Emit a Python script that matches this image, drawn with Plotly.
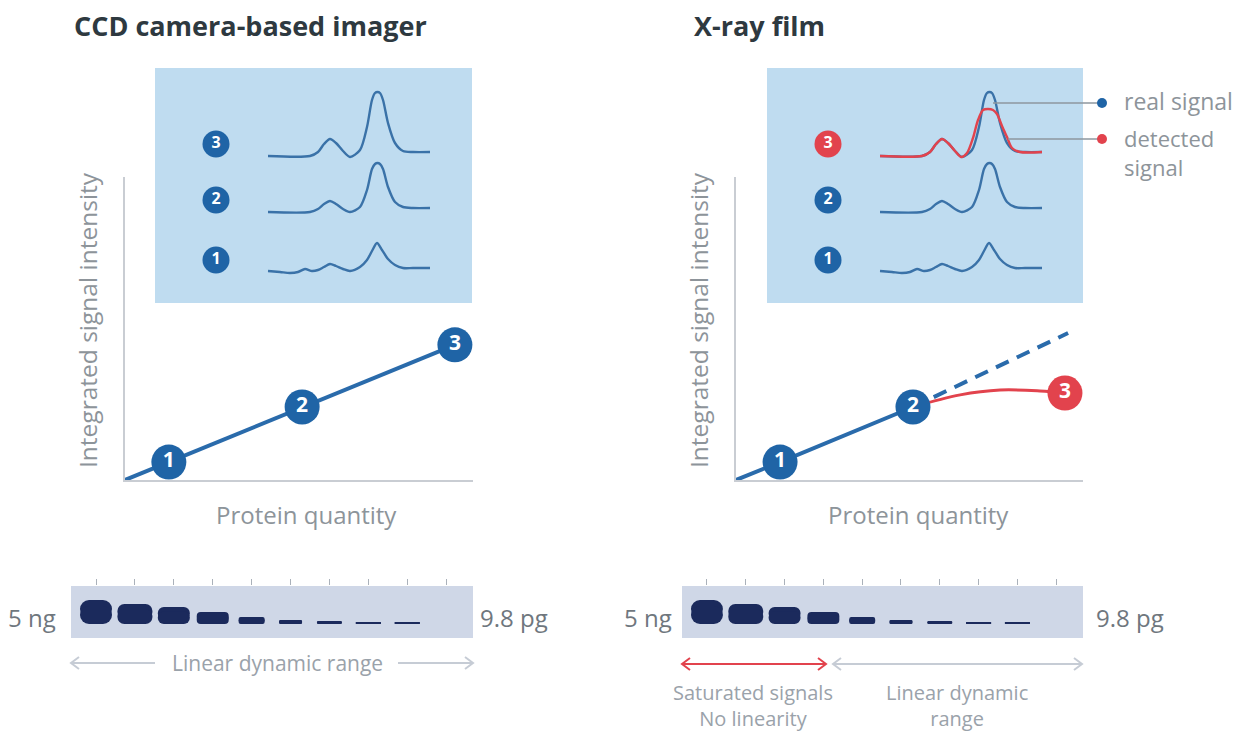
import plotly.graph_objects as go

W, H = 1248, 733
FONT = "Open Sans"
BLUE = "#1f64a6"
LINE_BLUE = "#2a6bab"
PROFILE_BLUE = "#3a72a8"
RED = "#e2434d"
NAVY = "#1b2a5c"
AXIS_GRAY = "#c9cdd3"
TEXT_GRAY = "#6f777e"
SOFT_GRAY = "#9aa2aa"
ARROW_GRAY = "#c6ccd5"
INSET_BG = "#bfdcf0"
STRIP_BG = "#cfd7e7"

# ---------------- data ----------------
sample_labels = ["1", "2", "3"]

# CCD imager: protein quantity vs integrated signal (origin + samples 1..3)
ccd_quantity = [0, 1.26, 5.09, 9.48]
ccd_signal = [0, 0.59, 2.41, 4.46]

# X-ray film
film_quantity = [0, 1.27, 5.10]
film_signal = [0, 0.59, 2.41]
film_expected_quantity = [5.10, 9.57]
film_expected_signal = [2.41, 4.85]
film_detected_quantity = [5.10, 6.46, 7.61, 8.76, 9.48]
film_detected_signal = [2.41, 2.81, 2.97, 2.94, 2.87]

# densitometry lane profiles (migration position, intensity above lane baseline)
profile_pos = [113, 155, 163, 169, 175, 181, 188, 195, 205, 212, 217, 220, 222.5, 225, 228, 233, 240, 248, 258, 275]
profile_3 = [0, 0, 4, 12, 17, 13, 5, -1, 6, 29, 56, 63, 64, 63, 56, 33, 13, 5, 4, 4]
profile_2 = [0, 0, 3, 8, 11, 8, 3, 0, 5, 22, 43, 48, 49, 48, 43, 25, 10, 5, 4, 4]
profile_1_pos = [113, 125, 135, 143, 150, 157, 163, 169, 175, 181, 188, 195, 205, 212, 217, 222, 227, 233, 240, 248, 258, 275]
profile_1 = [1, 0, -1, 0, 3, 1, 2, 5, 8, 6, 3, 1, 5, 12, 21, 29, 22, 13, 7, 4, 4, 4]
detected_3_pos = [113, 155, 163, 169, 175, 181, 188, 194, 200, 206, 211, 216, 221, 226, 230, 235, 240, 245, 253, 275]
detected_3 = [0, 0, 4, 12, 17, 13, 5, -1, 3, 18, 36, 46, 47, 46, 42, 30, 19, 8, 4, 4]

# blot: dilution series lanes
blot_lanes = [1, 2, 3, 4, 5, 6, 7, 8, 9]
band_intensity = [24, 20, 17, 12, 7, 4, 3, 2, 1.5]
band_spread = [32, 35, 32, 32, 26, 23, 25, 25, 25]
all_lanes = [1, 2, 3, 4, 5, 6, 7, 8, 9, 10]
sample_lane = [10, 6, 4]  # lanes of samples 1, 2, 3
blot_high = "5 ng"
blot_low = "9.8 pg"

# ---------------- layout helpers ----------------
def X(px):
    return px / W


def Y(py):
    return 1 - py / H


LANE_PX = 38.9
lane_offsets = [31, 91, 147]  # inset baselines of lanes 1..3
band_base = 14
badge_row = 62

fig = go.Figure()


def badges(xs, ys, labels, colors, size, fsize, xa, ya):
    fig.add_trace(go.Scatter(
        x=xs, y=ys, mode="markers+text", text=labels,
        textposition="middle center",
        textfont=dict(family=FONT, size=fsize, color="white", weight="bold"),
        marker=dict(size=size, color=colors, line=dict(width=0)),
        xaxis=xa, yaxis=ya, cliponaxis=False, showlegend=False, hoverinfo="skip"))


# ----- main left (CCD) -----
fig.add_trace(go.Scatter(x=ccd_quantity, y=ccd_signal, mode="lines",
                         line=dict(color=LINE_BLUE, width=4), xaxis="x", yaxis="y",
                         showlegend=False, cliponaxis=False))
badges(ccd_quantity[1:], ccd_signal[1:], sample_labels, [BLUE] * 3, 35, 21, "x", "y")

# ----- main right (film) -----
fig.add_trace(go.Scatter(x=film_expected_quantity, y=film_expected_signal, mode="lines",
                         line=dict(color=LINE_BLUE, width=4, dash="14px,9px"),
                         xaxis="x2", yaxis="y2", showlegend=False, cliponaxis=False))
fig.add_trace(go.Scatter(x=film_detected_quantity, y=film_detected_signal, mode="lines",
                         line=dict(color=RED, width=3, shape="spline"),
                         xaxis="x2", yaxis="y2", showlegend=False, cliponaxis=False))
fig.add_trace(go.Scatter(x=film_quantity, y=film_signal, mode="lines",
                         line=dict(color=LINE_BLUE, width=4), xaxis="x2", yaxis="y2",
                         showlegend=False, cliponaxis=False))
badges(film_quantity[1:] + [film_detected_quantity[-1]],
       film_signal[1:] + [film_detected_signal[-1]],
       sample_labels, [BLUE, BLUE, RED], 35, 21, "x2", "y2")

# ----- insets -----
for xa, ya, red3 in (("x3", "y3", False), ("x4", "y4", True)):
    lanes = [(profile_1_pos, profile_1), (profile_pos, profile_2), (profile_pos, profile_3)]
    for i, (pos, prof) in enumerate(lanes):
        fig.add_trace(go.Scatter(x=pos, y=[v + lane_offsets[i] for v in prof], mode="lines",
                                 line=dict(color=PROFILE_BLUE, width=2.4, shape="spline", smoothing=0.8),
                                 xaxis=xa, yaxis=ya, showlegend=False, hoverinfo="skip"))
    if red3:
        fig.add_trace(go.Scatter(x=detected_3_pos, y=[v + lane_offsets[2] for v in detected_3],
                                 mode="lines",
                                 line=dict(color=RED, width=2.4, shape="spline", smoothing=0.8),
                                 xaxis=xa, yaxis=ya, showlegend=False, hoverinfo="skip"))
    badges([61, 61, 61], [o + 12 for o in lane_offsets], sample_labels,
           [BLUE, BLUE, RED if red3 else BLUE], 27, 16, xa, ya)

# ----- blots (each band = two overlapping rounded halves) -----
for xa, ya, red3 in (("x5", "y5", False), ("x6", "y6", True)):
    for lane, h, w in zip(blot_lanes, band_intensity, band_spread):
        center = band_base + h / 2
        ov = h / 4
        part = h / 2 + ov
        r = max(min(0.45 * h, w / 2), 0.4)
        for sign in (1, -1):
            fig.add_trace(go.Bar(x=[lane], y=[sign * part], base=[center - sign * ov],
                                 width=[w / LANE_PX],
                                 marker=dict(color=NAVY, line=dict(width=0), cornerradius=r),
                                 xaxis=xa, yaxis=ya, showlegend=False, hoverinfo="skip"))
    badges(sample_lane, [badge_row] * 3, sample_labels,
           [BLUE, BLUE, RED if red3 else BLUE], 33, 20, xa, ya)

# ---------------- axes ----------------
main_axis = dict(showline=True, linecolor=AXIS_GRAY, linewidth=2, showgrid=False,
                 zeroline=False, showticklabels=False, ticks="", range=[0, 10], fixedrange=True)
hidden = dict(visible=False, fixedrange=True)
blot_x = dict(showline=False, showgrid=False, zeroline=False, showticklabels=False,
              ticks="outside", ticklen=6, tickwidth=1, tickcolor="#aab1ba", side="top",
              tickvals=all_lanes, range=[0.357, 10.69], fixedrange=True, layer="below traces")

fig.update_layout(
    width=W, height=H, autosize=False,
    margin=dict(l=0, r=0, t=0, b=0),
    paper_bgcolor="white", plot_bgcolor="rgba(0,0,0,0)",
    barmode="overlay", showlegend=False,
    font=dict(family=FONT),
    xaxis=dict(domain=[X(125), X(473)], anchor="y", **main_axis),
    yaxis=dict(domain=[Y(480), Y(177)], anchor="x", **main_axis),
    xaxis2=dict(domain=[X(736), X(1083)], anchor="y2", **main_axis),
    yaxis2=dict(domain=[Y(480), Y(177)], anchor="x2", **main_axis),
    xaxis3=dict(domain=[X(155), X(472)], anchor="y3", range=[0, 317], **hidden),
    yaxis3=dict(domain=[Y(303), Y(68)], anchor="x3", range=[0, 235], **hidden),
    xaxis4=dict(domain=[X(767), X(1083)], anchor="y4", range=[0, 316], **hidden),
    yaxis4=dict(domain=[Y(303), Y(68)], anchor="x4", range=[0, 235], **hidden),
    xaxis5=dict(domain=[X(71), X(473)], anchor="y5", **blot_x),
    yaxis5=dict(domain=[Y(638), Y(586)], anchor="x5", range=[0, 52], **hidden),
    xaxis6=dict(domain=[X(682), X(1083)], anchor="y6", **blot_x),
    yaxis6=dict(domain=[Y(638), Y(586)], anchor="x6", range=[0, 52], **hidden),
)

shapes = []
for n in ("3", "4"):
    shapes.append(dict(type="rect", xref=f"x{n} domain", yref=f"y{n} domain",
                       x0=0, x1=1, y0=0, y1=1, fillcolor=INSET_BG, line=dict(width=0), layer="below"))
for n in ("5", "6"):
    shapes.append(dict(type="rect", xref=f"x{n} domain", yref=f"y{n} domain",
                       x0=0, x1=1, y0=0, y1=1, fillcolor=STRIP_BG, line=dict(width=0), layer="below"))


def hline(x0, x1, y, color, width=2):
    shapes.append(dict(type="line", xref="paper", yref="paper", x0=X(x0), x1=X(x1),
                       y0=Y(y), y1=Y(y), line=dict(color=color, width=width)))


def head(tx, y, direction, color):
    d = 8 * direction
    path = f"M {X(tx - d)},{Y(y - 6)} L {X(tx)},{Y(y)} L {X(tx - d)},{Y(y + 6)}"
    shapes.append(dict(type="path", xref="paper", yref="paper", path=path,
                       line=dict(color=color, width=2)))


# arrows under blots
hline(71, 155, 663, ARROW_GRAY); head(71, 663, -1, ARROW_GRAY)
hline(398, 473, 663, ARROW_GRAY); head(473, 663, 1, ARROW_GRAY)
hline(682, 826, 664, RED); head(682, 664, -1, RED); head(826, 664, 1, RED)
hline(833, 1082, 664, ARROW_GRAY); head(833, 664, -1, ARROW_GRAY); head(1082, 664, 1, ARROW_GRAY)

# callouts
hline(993, 1102, 103, "#8e979f", 1.5)
hline(1008, 1102, 139, "#8e979f", 1.5)
for cy, col in ((103, BLUE), (139, RED)):
    shapes.append(dict(type="circle", xref="paper", yref="paper",
                       x0=X(1097), x1=X(1107), y0=Y(cy + 5), y1=Y(cy - 5),
                       fillcolor=col, line=dict(width=0)))
fig.update_layout(shapes=shapes)

ann = []


def text(t, x, y, size, color, anchor="center", bold=False, angle=0, align="center"):
    ann.append(dict(text=t, x=X(x), y=Y(y), xref="paper", yref="paper", showarrow=False,
                    xanchor=anchor, yanchor="middle", textangle=angle, align=align,
                    font=dict(family=FONT, size=size, color=color,
                              weight="bold" if bold else "normal")))


text("CCD camera-based imager", 72, 25, 27, "#2e3940", "left", True)
text("X-ray film", 692, 25, 27, "#2e3940", "left", True)
text("Integrated signal intensity", 88, 320, 24.5, "#8d949a", angle=-90)
text("Integrated signal intensity", 699, 320, 24.5, "#8d949a", angle=-90)
text("Protein quantity", 306, 514, 24, "#8d949a")
text("Protein quantity", 918, 514, 24, "#8d949a")
text(blot_high, 32, 617, 24, TEXT_GRAY)
text(blot_low, 514, 617, 24, TEXT_GRAY)
text(blot_high, 648, 617, 24, TEXT_GRAY)
text(blot_low, 1130, 617, 24, TEXT_GRAY)
text("Linear dynamic range", 277, 663, 21, SOFT_GRAY)
text("Saturated signals<br>No linearity", 753, 705, 20, SOFT_GRAY)
text("Linear dynamic<br>range", 957, 705, 20, SOFT_GRAY)
text("real signal", 1122, 101, 23, "#8d949a", "left")
text("detected<br>signal", 1122, 152, 22, "#8d949a", "left", align="left")
fig.update_layout(annotations=ann)

fig.write_html("out.html", config={"displayModeBar": False},
               post_script="document.body.style.margin='0';")
